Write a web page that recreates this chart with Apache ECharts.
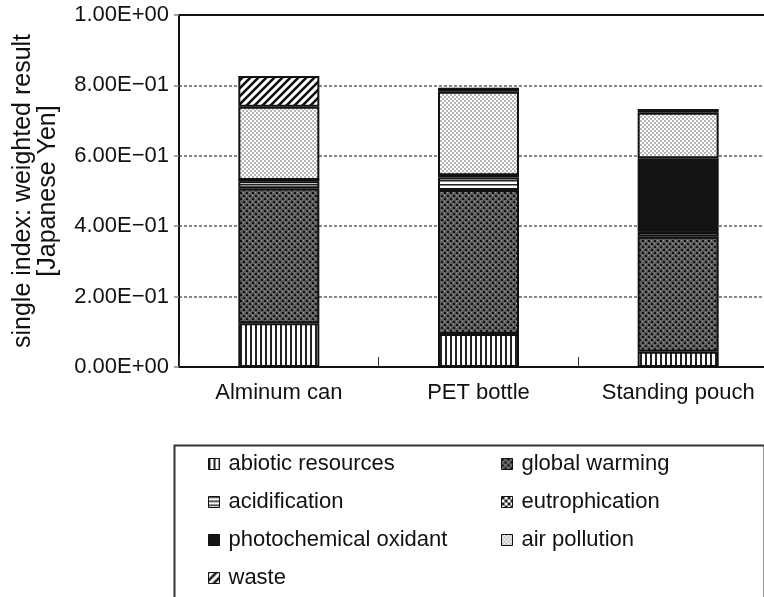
<!DOCTYPE html>
<html>
<head>
<meta charset="utf-8">
<script src="https://cdn.jsdelivr.net/npm/echarts@6/dist/echarts.min.js"></script>
<style>
html,body{margin:0;padding:0;background:#fff;overflow:hidden;}
#chart{width:800px;height:597px;}
</style>
</head>
<body>
<div id="chart"></div>
<script>
// ---- data ----
const categories = ['Alminum can', 'PET bottle', 'Standing pouch'];
const seriesNames = ['abiotic resources', 'global warming', 'acidification', 'eutrophication', 'photochemical oxidant', 'air pollution', 'waste'];
const abiotic = [0.124, 0.094, 0.043];
const globalWarming = [0.384, 0.409, 0.327];
const acidification = [0.020, 0.035, 0.012];
const eutrophication = [0.003, 0.007, 0.002];
const photochemical = [0, 0, 0.209];
const airPollution = [0.208, 0.237, 0.129];
const waste = [0.088, 0.011, 0.011];
const yTicks = [0, 0.2, 0.4, 0.6, 0.8, 1.0];

// ---- patterns ----
function tile(w, h, draw) {
  const c = document.createElement('canvas');
  c.width = w; c.height = h;
  const g = c.getContext('2d');
  draw(g, w, h);
  return { image: c, repeat: 'repeat' };
}
const patterns = [
  tile(5, 5, (g) => { g.fillStyle = '#fff'; g.fillRect(0,0,5,5); g.fillStyle = '#222'; g.fillRect(0,0,2,5); }),
  tile(6, 6, (g) => {
    g.fillStyle = '#5c5c5c'; g.fillRect(0,0,6,6);
    g.fillStyle = '#111'; g.fillRect(0,0,2,2); g.fillRect(3,3,2,2);
    g.fillStyle = '#a8a8a8'; g.fillRect(3,0,1,1); g.fillRect(0,3,1,1);
  }),
  tile(4, 4, (g) => { g.fillStyle = '#fff'; g.fillRect(0,0,4,4); g.fillStyle = '#222'; g.fillRect(0,0,4,1.5); }),
  tile(6, 6, (g) => { g.fillStyle = '#fff'; g.fillRect(0,0,6,6); g.fillStyle = '#222'; g.fillRect(0,0,3,3); g.fillRect(3,3,3,3); }),
  '#141414',
  tile(4, 4, (g) => { g.fillStyle = '#fff'; g.fillRect(0,0,4,4); g.fillStyle = '#b5b5b5'; g.fillRect(0,0,2,2); g.fillRect(2,2,2,2); }),
  tile(8, 8, (g) => {
    g.fillStyle = '#fff'; g.fillRect(0,0,8,8);
    g.strokeStyle = '#111'; g.lineWidth = 2.6;
    g.beginPath();
    g.moveTo(-2,10); g.lineTo(10,-2);
    g.moveTo(-6,6); g.lineTo(6,-6);
    g.moveTo(2,14); g.lineTo(14,2);
    g.stroke();
  })
];
const values = [abiotic, globalWarming, acidification, eutrophication, photochemical, airPollution, waste];

function fmt(v) {
  if (Math.abs(v) < 1e-12) return '0.00E+00';
  const s = v.toExponential(2);
  const parts = s.split('e');
  let e = parseInt(parts[1], 10);
  const sign = e < 0 ? '\u2212' : '+';
  e = Math.abs(e);
  return parts[0] + 'E' + sign + (e < 10 ? '0' + e : '' + e);
}

const FONT = 'Liberation Sans, Arial, Helvetica, sans-serif';
const legendText = { fontSize: 22, lineHeight: 22, color: '#111', padding: [0, 0, 0, 4], fontFamily: FONT };

const chart = echarts.init(document.getElementById('chart'), null, { renderer: 'canvas', width: 800, height: 597 });
chart.setOption({
  backgroundColor: '#fff',
  animation: false,
  textStyle: { fontFamily: FONT, color: '#111' },
  grid: { left: 179, top: 15, width: 599, height: 352, show: true, borderColor: '#111', borderWidth: 2, backgroundColor: 'transparent' },
  xAxis: {
    type: 'category',
    data: categories,
    axisLine: { lineStyle: { color: '#111', width: 2 } },
    axisTick: { show: true, inside: true, length: 10, lineStyle: { color: '#333', width: 1 } },
    axisLabel: { fontSize: 22, color: '#111', margin: 15, fontFamily: FONT }
  },
  yAxis: {
    type: 'value',
    min: 0, max: 1, interval: 0.2,
    name: 'single index: weighted result\n[Japanese Yen]',
    nameLocation: 'middle',
    nameGap: 118,
    nameRotate: 90,
    nameTextStyle: { fontSize: 25, lineHeight: 25, color: '#111', fontFamily: FONT, align: 'center' },
    axisLine: { show: true, lineStyle: { color: '#111', width: 2 } },
    axisTick: { show: true, length: 5, lineStyle: { color: '#888', width: 1.5 } },
    axisLabel: { fontSize: 22, color: '#111', margin: 10, formatter: fmt, fontFamily: FONT },
    splitLine: { show: true, showMinLine: false, showMaxLine: false, lineStyle: { color: '#888', width: 1.8, type: [3, 2] } }
  },
  legend: [
    {
      data: [seriesNames[0], seriesNames[2], seriesNames[4], seriesNames[6]],
      orient: 'vertical', left: 203, top: 448, height: 200,
      itemWidth: 11, itemHeight: 11, itemGap: 16, icon: 'rect',
      itemStyle: { borderColor: '#111', borderWidth: 1 },
      textStyle: legendText
    },
    {
      data: [seriesNames[1], seriesNames[3], seriesNames[5]],
      orient: 'vertical', left: 496, top: 448, height: 200,
      itemWidth: 11, itemHeight: 11, itemGap: 16, icon: 'rect',
      itemStyle: { borderColor: '#111', borderWidth: 1 },
      textStyle: legendText
    }
  ],
  graphic: [
    { type: 'rect', left: 172, top: 443, shape: { width: 590, height: 170 }, style: { fill: 'none', stroke: '#333', lineWidth: 2 }, silent: true }
  ],
  series: seriesNames.map((n, i) => ({
    name: n,
    type: 'bar',
    stack: 'total',
    barWidth: 81,
    data: values[i],
    itemStyle: { color: patterns[i], borderColor: '#111', borderWidth: 2 },
    emphasis: { disabled: true }
  }))
});
</script>
</body>
</html>
